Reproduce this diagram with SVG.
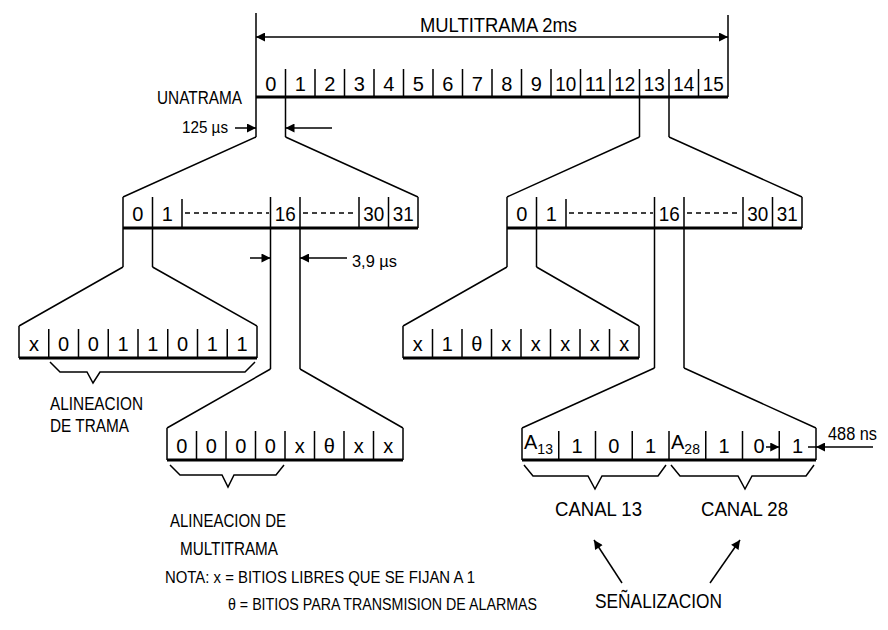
<svg xmlns="http://www.w3.org/2000/svg" width="888" height="630" viewBox="0 0 888 630">
<defs>
<style>
.ln{stroke:#000;stroke-width:1.5;fill:none}
.th{stroke:#000;stroke-width:3.2;fill:none}
.ds{stroke:#000;stroke-width:1.4;fill:none;stroke-dasharray:5,4}
.t{font-family:"Liberation Sans",Arial,sans-serif;fill:#000}
.d{font-size:20px;text-anchor:middle}
</style>
<marker id="ah" viewBox="0 0 10 10" refX="10" refY="5" markerWidth="10" markerHeight="9" markerUnits="userSpaceOnUse" orient="auto-start-reverse"><path d="M0,0 L10,5 L0,10 z" fill="#000"/></marker>
</defs>
<rect width="888" height="630" fill="#fff"/>

<g id="multitrama">
<path class="ln" d="M256,13 V137 M728,15 V97 M285.5,69 V137 M315,69 V97 M344.5,69 V97 M374,69 V97 M403.5,69 V97 M433,69 V97 M462.5,69 V97 M492,69 V97 M521.5,69 V97 M551,69 V97 M580.5,69 V97 M610,69 V97 M639.5,69 V137 M669,69 V137 M698.5,69 V97"/>
<path class="th" d="M256,97 H728"/>
<g class="t d">
<text x="270.75" y="91">0</text><text x="300.25" y="91">1</text><text x="329.75" y="91">2</text><text x="359.25" y="91">3</text><text x="388.75" y="91">4</text><text x="418.25" y="91">5</text><text x="447.75" y="91">6</text><text x="477.25" y="91">7</text><text x="506.75" y="91">8</text><text x="536.25" y="91">9</text><text x="565.75" y="91" textLength="21" lengthAdjust="spacingAndGlyphs">10</text><text x="595.25" y="91" textLength="21" lengthAdjust="spacingAndGlyphs">11</text><text x="624.75" y="91" textLength="21" lengthAdjust="spacingAndGlyphs">12</text><text x="654.25" y="91" textLength="21" lengthAdjust="spacingAndGlyphs">13</text><text x="683.75" y="91" textLength="21" lengthAdjust="spacingAndGlyphs">14</text><text x="713.25" y="91" textLength="21" lengthAdjust="spacingAndGlyphs">15</text>
</g>
<text class="t" x="420" y="32" font-size="21" textLength="157" lengthAdjust="spacingAndGlyphs">MULTITRAMA 2ms</text>
<text class="t" x="157" y="104" font-size="18" textLength="85" lengthAdjust="spacingAndGlyphs">UNATRAMA</text>
<text class="t" x="182" y="133" font-size="17" textLength="46" lengthAdjust="spacingAndGlyphs">125 µs</text>
</g>

<g id="tramaL">
<path class="ln" d="M256,137 L123,197 M285.5,137 L418,197 M123,197 V267 M152.5,197 V267 M182,199 V228 M270.5,197 V369 M300,197 V369 M359,197 V228 M388.5,197 V228 M418,197 V228"/>
<path class="th" d="M123,228 H418"/>
<path class="ds" d="M185,213 H269 M303,213 H357"/>
<g class="t d">
<text x="137.75" y="221">0</text><text x="167.25" y="221">1</text><text x="285.25" y="221" textLength="21" lengthAdjust="spacingAndGlyphs">16</text><text x="373.75" y="221" textLength="21" lengthAdjust="spacingAndGlyphs">30</text><text x="403.25" y="221" textLength="21" lengthAdjust="spacingAndGlyphs">31</text>
</g>
<text class="t" x="352" y="267" font-size="17" textLength="45" lengthAdjust="spacingAndGlyphs">3,9 µs</text>
</g>

<g id="tramaR">
<path class="ln" d="M639.5,137 L507,197 M669,137 L802,197 M507,197 V267 M536.5,197 V267 M566,199 V228 M654.5,197 V368 M684,197 V368 M743,197 V228 M772.5,197 V228 M802,197 V228"/>
<path class="th" d="M507,228 H802"/>
<path class="ds" d="M569,213 H653 M687,213 H741"/>
<g class="t d">
<text x="521.75" y="221">0</text><text x="551.25" y="221">1</text><text x="669.25" y="221" textLength="21" lengthAdjust="spacingAndGlyphs">16</text><text x="757.75" y="221" textLength="21" lengthAdjust="spacingAndGlyphs">30</text><text x="787.25" y="221" textLength="21" lengthAdjust="spacingAndGlyphs">31</text>
</g>
</g>

<g id="bitsA">
<path class="ln" d="M123,267 L19,326 M152.5,267 L257,326 M19,326 V358 M257,326 V358 M48.75,329 V358 M78.5,329 V358 M108.25,329 V358 M138,329 V358 M167.75,329 V358 M197.5,329 V358 M227.25,329 V358"/>
<path class="th" d="M19,358 H257"/>
<g class="t d">
<text x="33.9" y="351">x</text><text x="63.6" y="351">0</text><text x="93.4" y="351">0</text><text x="123.1" y="351">1</text><text x="152.9" y="351">1</text><text x="182.6" y="351">0</text><text x="212.4" y="351">1</text><text x="242.1" y="351">1</text>
</g>
<path class="ln" d="M50,362 L60,372 H87 L93,383 L100,372 H245 L255,362"/>
<text class="t" x="50" y="410" font-size="18" textLength="93" lengthAdjust="spacingAndGlyphs">ALINEACION</text>
<text class="t" x="50" y="432" font-size="18" textLength="79" lengthAdjust="spacingAndGlyphs">DE TRAMA</text>
</g>

<g id="bitsB">
<path class="ln" d="M270.5,369 L167,428 M300,369 L403,428 M167,428 V460 M403,428 V460 M196.5,431 V460 M226,431 V460 M255.5,431 V460 M285,431 V460 M314.5,431 V460 M344,431 V460 M373.5,431 V460"/>
<path class="th" d="M167,460 H403"/>
<g class="t d">
<text x="181.75" y="453">0</text><text x="211.25" y="453">0</text><text x="240.75" y="453">0</text><text x="270.25" y="453">0</text><text x="299.75" y="453">x</text><text x="329.25" y="453">θ</text><text x="358.75" y="453">x</text><text x="388.25" y="453">x</text>
</g>
<path class="ln" d="M170,465 L180,475 H222 L228,487 L234,475 H276 L284,465"/>
<text class="t" x="170" y="527" font-size="18" textLength="116" lengthAdjust="spacingAndGlyphs">ALINEACION DE</text>
<text class="t" x="180" y="555" font-size="18" textLength="98" lengthAdjust="spacingAndGlyphs">MULTITRAMA</text>
</g>

<g id="bitsC">
<path class="ln" d="M507,267 L403,326 M536.5,267 L639,326 M403,326 V358 M639,326 V358 M432.5,329 V358 M462,329 V358 M491.5,329 V358 M521,329 V358 M550.5,329 V358 M580,329 V358 M609.5,329 V358"/>
<path class="th" d="M403,358 H639"/>
<g class="t d">
<text x="417.75" y="351">x</text><text x="447.25" y="351">1</text><text x="476.75" y="351">θ</text><text x="506.25" y="351">x</text><text x="535.75" y="351">x</text><text x="565.25" y="351">x</text><text x="594.75" y="351">x</text><text x="624.25" y="351">x</text>
</g>
</g>

<g id="bitsD">
<path class="ln" d="M654.5,368 L522,428 M684,368 L816,428 M522,428 V460 M816,428 V460 M558.75,431 V460 M595.5,431 V460 M632.25,431 V460 M669,431 V460 M705.75,431 V460 M742.5,431 V460 M779.25,431 V460"/>
<path class="th" d="M522,460 H816"/>
<text class="t" x="524" y="449" font-size="20">A<tspan font-size="14" dy="5">13</tspan></text>
<text class="t" x="671" y="449" font-size="20">A<tspan font-size="14" dy="5">28</tspan></text>
<g class="t d">
<text x="577.1" y="453">1</text><text x="613.9" y="453">0</text><text x="650.6" y="453">1</text><text x="724.1" y="453">1</text><text x="759" y="453">0</text><text x="797.6" y="453">1</text>
</g>
<path class="ln" d="M808,447 H816"/>
<text class="t" x="828" y="440" font-size="18" textLength="49" lengthAdjust="spacingAndGlyphs">488 ns</text>
<path class="ln" d="M524,465 L533,476 H588 L595,489 L602,476 H658 L666,465"/>
<path class="ln" d="M671,465 L680,476 H738 L745,489 L752,476 H806 L814,465"/>
<text class="t" x="555" y="516" font-size="20" textLength="87" lengthAdjust="spacingAndGlyphs">CANAL 13</text>
<text class="t" x="701" y="516" font-size="20" textLength="87" lengthAdjust="spacingAndGlyphs">CANAL 28</text>
<text class="t" x="595" y="608" font-size="20" textLength="127" lengthAdjust="spacingAndGlyphs">SEÑALIZACION</text>
</g>

<g id="nota">
<text class="t" x="165" y="583" font-size="16" textLength="310" lengthAdjust="spacingAndGlyphs">NOTA:  x = BITIOS LIBRES QUE SE FIJAN A 1</text>
<text class="t" x="228" y="610" font-size="16" textLength="309" lengthAdjust="spacingAndGlyphs">θ = BITIOS PARA TRANSMISION DE ALARMAS</text>
</g>

<g id="connectors">
<path class="ln" d="M256,37 H728" marker-start="url(#ah)" marker-end="url(#ah)"/>
<path class="ln" d="M235,128 H256" marker-end="url(#ah)"/>
<path class="ln" d="M332,128 H285.5" marker-end="url(#ah)"/>
<path class="ln" d="M250,258 H270.5" marker-end="url(#ah)"/>
<path class="ln" d="M347,258 H300" marker-end="url(#ah)"/>
<path class="ln" d="M766,447 H779.25" marker-end="url(#ah)"/>
<path class="ln" d="M873,447 H816" marker-end="url(#ah)"/>
<path class="ln" d="M622,583 L594,540" marker-end="url(#ah)"/>
<path class="ln" d="M710,583 L740,540" marker-end="url(#ah)"/>
</g>
</svg>
